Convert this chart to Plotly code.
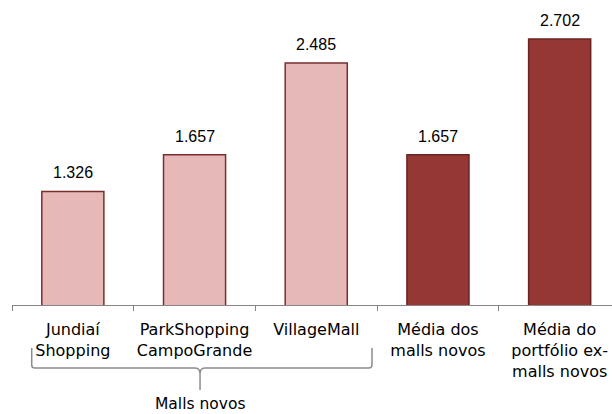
import plotly.graph_objects as go

categories = ["Jundiaí<br>Shopping", "ParkShopping<br>CampoGrande", "VillageMall",
              "Média dos<br>malls novos", "Média do<br>portfólio ex-<br>malls novos"]
values = [1326, 1657, 2485, 1657, 2702]
fill_colors = ["#E6B9B8", "#E6B9B8", "#E6B9B8", "#953735", "#953735"]
line_colors = ["#7A2E2C", "#7A2E2C", "#7A2E2C", "#6B2422", "#6B2422"]
group_label = "Malls novos"

xs = list(range(len(values)))
FONT = "Liberation Sans, Arial, sans-serif"
LFONT = "DejaVu Sans, sans-serif"

fig = go.Figure()
fig.add_trace(go.Bar(
    x=xs, y=values, width=0.51,
    marker=dict(color=fill_colors, line=dict(color=line_colors, width=1.5)),
    hoverinfo="skip",
))

annotations = []
for x, v in zip(xs, values):
    annotations.append(dict(x=x, y=v, xref="x", yref="y", text=f"{v:,}".replace(",", "."),
                            showarrow=False, yanchor="bottom", yshift=8,
                            font=dict(family=FONT, size=16, color="#000000")))

# brace under the first three categories
xl, xm, xr = -0.338, 1.045, 2.458
yt, yh, ytip = -0.1438, -0.2107, -0.2843
path = (f"M {xl},{yt} L {xl},{yh+0.01} Q {xl},{yh} {xl+0.025},{yh} "
        f"L {xm-0.04},{yh} Q {xm},{yh} {xm},{yh-0.02} L {xm},{ytip} "
        f"M {xm},{yh-0.02} Q {xm},{yh} {xm+0.04},{yh} "
        f"L {xr-0.025},{yh} Q {xr},{yh} {xr},{yh+0.01} L {xr},{yt}")
shapes = [dict(type="path", xref="x", yref="paper", path=path,
               line=dict(color="#8C8C8C", width=1.5))]
annotations.append(dict(x=xm, y=-0.3635, xref="x", yref="paper", text=group_label,
                        showarrow=False, yanchor="bottom", borderpad=0,
                        font=dict(family=LFONT, size=15.5, color="#000000")))

fig.update_layout(
    width=612, height=414,
    margin=dict(l=12, r=0, t=6, b=109),
    paper_bgcolor="white", plot_bgcolor="white",
    showlegend=False,
    shapes=shapes, annotations=annotations,
    xaxis=dict(
        range=[-0.5, -0.5 + 600 / 121.7],
        tickmode="array", tickvals=xs, ticktext=categories,
        ticks="", showgrid=False, zeroline=False,
        showline=True, linecolor="#868686", linewidth=1,
        ticklabelstandoff=10,
        tickfont=dict(family=LFONT, size=16, color="#000000"),
        minor=dict(tickmode="array", tickvals=[i - 0.5 for i in range(len(values) + 1)],
                   ticks="outside", ticklen=5, tickcolor="#868686", tickwidth=1, showgrid=False),
    ),
    yaxis=dict(range=[300, 3000], visible=False, showgrid=False, zeroline=False),
)

fig.write_html("out.html")
